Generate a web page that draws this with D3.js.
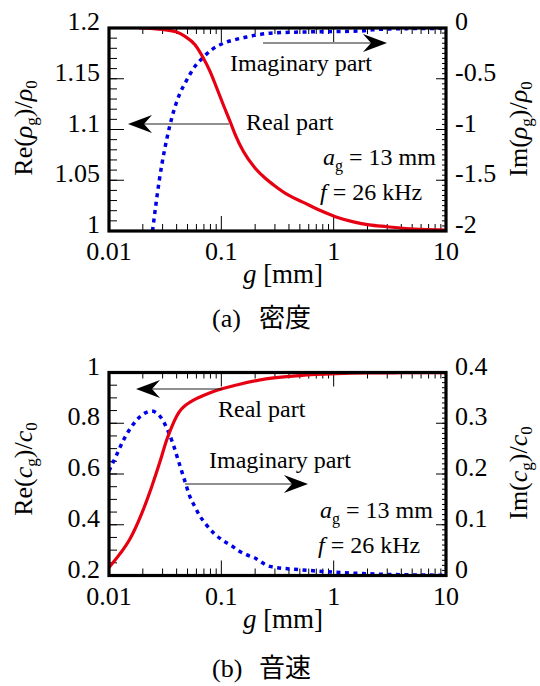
<!DOCTYPE html>
<html><head><meta charset="utf-8">
<script src="https://cdn.jsdelivr.net/npm/d3@7"></script>
<style>body{margin:0;background:#fff} svg{display:block}</style>
</head><body>
<script>
// ---------- data ----------
const gTicks = [0.01, 0.1, 1, 10];
const gTickLabels = ["0.01", "0.1", "1", "10"];

// (a) density
const densReG = [0.0185, 0.025, 0.03, 0.04, 0.0475, 0.0583, 0.0691, 0.0793, 0.091, 0.1041, 0.1195, 0.1323, 0.1569, 0.1994, 0.2448, 0.29, 0.4, 0.53, 0.75, 1.05, 1.5, 2.07, 3, 4.1, 6, 10];
const densReV = [1.2, 1.1994, 1.1985, 1.196, 1.1918, 1.1835, 1.1704, 1.1573, 1.1409, 1.1244, 1.1081, 1.0955, 1.0785, 1.0621, 1.0522, 1.0456, 1.035, 1.0285, 1.0205, 1.0138, 1.009, 1.006, 1.0042, 1.0027, 1.0017, 1.001];
const densImG = [0.0244, 0.028, 0.035, 0.0427, 0.0475, 0.0583, 0.0691, 0.082, 0.1006, 0.1323, 0.168, 0.213, 0.29, 0.5, 1, 1.7, 2.2, 3, 10];
const densImV = [-2, -1.505, -0.95, -0.647, -0.545, -0.377, -0.289, -0.214, -0.158, -0.115, -0.089, -0.066, -0.049, -0.04, -0.035, -0.03, -0.018, -0.01, -0.003];
const densLeftTicks = [1, 1.05, 1.1, 1.15, 1.2];
const densLeftLabels = ["1", "1.05", "1.1", "1.15", "1.2"];
const densRightTicks = [-2, -1.5, -1, -0.5, 0];
const densRightLabels = ["-2", "-1.5", "-1", "-0.5", "0"];

// (b) sound speed
const spdReG = [0.01, 0.0125, 0.0154, 0.0195, 0.024, 0.0285, 0.0325, 0.0365, 0.04, 0.044, 0.048, 0.0523, 0.06, 0.07, 0.09, 0.14, 0.25, 0.5, 1.05, 2, 4, 10];
const spdReV = [0.232, 0.285, 0.345, 0.443, 0.55, 0.65, 0.732, 0.79, 0.828, 0.855, 0.871, 0.882, 0.897, 0.91, 0.929, 0.952, 0.975, 0.988, 0.995, 0.998, 0.999, 0.9997];
const spdImG = [0.01, 0.0117, 0.0134, 0.0155, 0.0176, 0.0205, 0.0239, 0.027, 0.0303, 0.0335, 0.0372, 0.042, 0.0472, 0.0524, 0.058, 0.0641, 0.0736, 0.0871, 0.1035, 0.123, 0.142, 0.167, 0.197, 0.27, 0.53, 1.05, 2.07, 4, 10];
const spdImV = [0.206, 0.238, 0.266, 0.29, 0.306, 0.319, 0.324, 0.319, 0.305, 0.285, 0.259, 0.222, 0.187, 0.156, 0.136, 0.118, 0.0999, 0.082, 0.069, 0.059, 0.049, 0.041, 0.035, 0.018, 0.011, 0.0065, 0.0033, 0.0015, 0.0006];
const spdLeftTicks = [0.2, 0.4, 0.6, 0.8, 1];
const spdLeftLabels = ["0.2", "0.4", "0.6", "0.8", "1"];
const spdRightTicks = [0, 0.1, 0.2, 0.3, 0.4];
const spdRightLabels = ["0", "0.1", "0.2", "0.3", "0.4"];

// ---------- drawing ----------
const W = 540, H = 686;
const SERIF = "Liberation Serif, Times New Roman, serif";
const CJK = "Noto Sans CJK JP, Noto Sans CJK SC, sans-serif";
const RED = "#e60012", BLUE = "#0000e6";
const TICK_FS = 26, TITLE_FS = 26, NOTE_FS = 24;

const svg = d3.select("body").append("svg").attr("width", W).attr("height", H);

function txt(parent, size) {
  return parent.append("text").attr("font-family", SERIF).attr("font-size", size).attr("fill", "#000");
}

function richText(sel, parts, size, shift) {
  const sh = shift || size * 0.26;
  let shifted = false;
  parts.forEach(([t, st]) => {
    const ts = sel.append("tspan").text(t);
    if (st === "i") ts.attr("font-style", "italic");
    if (st === "s") {
      ts.attr("font-size", Math.round(size * 0.66));
      if (!shifted) { ts.attr("dy", sh); shifted = true; }
    } else if (shifted) {
      ts.attr("dy", -sh); shifted = false;
    }
  });
}

function arrow(g, x1, x2, y) {
  const dir = x2 > x1 ? 1 : -1;
  g.append("line").attr("x1", x1).attr("x2", x2 - dir * 12).attr("y1", y).attr("y2", y)
    .attr("stroke", "#222").attr("stroke-width", 1.2);
  const L = 24, Hh = 9, N = 16;
  g.append("path")
    .attr("d", `M${x2},${y} L${x2 - dir * L},${y - Hh} L${x2 - dir * N},${y} L${x2 - dir * L},${y + Hh} Z`)
    .attr("fill", "#000");
}

function panel(cfg) {
  const { top, bottom, left, right } = cfg;
  const x = d3.scaleLog().domain([0.01, 10]).range([left, right]);
  const yL = d3.scaleLinear().domain(cfg.leftDomain).range([bottom, top]);
  const yR = d3.scaleLinear().domain(cfg.rightDomain).range([bottom, top]);
  const g = svg.append("g");

  const clipId = "clip" + cfg.id;
  svg.append("clipPath").attr("id", clipId).append("rect")
    .attr("x", left).attr("y", top).attr("width", right - left).attr("height", bottom - top);

  const tk = g.append("g").attr("stroke", "#000").attr("stroke-width", 1);
  [0.01, 0.1, 1].forEach(d => {
    for (let k = 2; k <= 9; k++) {
      const xx = x(d * k);
      tk.append("line").attr("x1", xx).attr("x2", xx).attr("y1", bottom).attr("y2", bottom - 7);
      tk.append("line").attr("x1", xx).attr("x2", xx).attr("y1", top).attr("y2", top + 6);
    }
  });
  gTicks.forEach(v => {
    const xx = x(v);
    tk.append("line").attr("x1", xx).attr("x2", xx).attr("y1", bottom).attr("y2", bottom - 15);
    tk.append("line").attr("x1", xx).attr("x2", xx).attr("y1", top).attr("y2", top + 14);
  });
  d3.range(0, cfg.leftMinorN + 1).forEach(i => {
    const yy = yL(cfg.leftDomain[0] + i * cfg.leftMinor);
    tk.append("line").attr("x1", left).attr("x2", left + 8).attr("y1", yy).attr("y2", yy);
  });
  cfg.leftTicks.forEach(v => {
    const yy = yL(v);
    tk.append("line").attr("x1", left).attr("x2", left + 15).attr("y1", yy).attr("y2", yy);
  });
  d3.range(0, cfg.rightMinorN + 1).forEach(i => {
    const yy = yR(cfg.rightDomain[0] + i * cfg.rightMinor);
    tk.append("line").attr("x1", right).attr("x2", right - 4).attr("y1", yy).attr("y2", yy);
  });
  cfg.rightTicks.forEach(v => {
    const yy = yR(v);
    tk.append("line").attr("x1", right).attr("x2", right - 10).attr("y1", yy).attr("y2", yy);
  });

  const cg = g.append("g").attr("clip-path", `url(#${clipId})`);
  const lineRe = d3.line().x(d => x(d[0])).y(d => yL(d[1])).curve(d3.curveMonotoneX);
  const lineIm = d3.line().x(d => x(d[0])).y(d => yR(d[1])).curve(d3.curveMonotoneX);
  cg.append("path").datum(d3.zip(cfg.imG, cfg.imV)).attr("d", lineIm)
    .attr("fill", "none").attr("stroke", BLUE).attr("stroke-width", 3.5).attr("stroke-dasharray", "4,4.5");
  cg.append("path").datum(d3.zip(cfg.reG, cfg.reV)).attr("d", lineRe)
    .attr("fill", "none").attr("stroke", RED).attr("stroke-width", 3.2);

  cfg.arrows.forEach(a => arrow(g, a[0], a[1], a[2]));
  cfg.texts.forEach(t => {
    const te = txt(g, NOTE_FS).attr("x", t.x).attr("y", t.y);
    richText(te, t.parts, NOTE_FS);
  });

  g.append("rect").attr("x", left).attr("y", top).attr("width", right - left).attr("height", bottom - top)
    .attr("fill", "none").attr("stroke", "#000").attr("stroke-width", 3.2);

  gTicks.forEach((v, i) => {
    txt(g, TICK_FS).attr("x", x(v)).attr("y", bottom + 29).attr("text-anchor", "middle").text(gTickLabels[i]);
  });
  cfg.leftTicks.forEach((v, i) => {
    txt(g, TICK_FS).attr("x", left - 9).attr("y", yL(v) + 2).attr("text-anchor", "end").text(cfg.leftLabels[i]);
  });
  cfg.rightTicks.forEach((v, i) => {
    txt(g, TICK_FS).attr("x", right + 9).attr("y", yR(v) + 2).attr("text-anchor", "start").text(cfg.rightLabels[i]);
  });

  const xt = txt(g, 27).attr("x", 283).attr("y", bottom + 52).attr("text-anchor", "middle");
  richText(xt, [["g", "i"], [" [mm]", "n"]], 27);
  const lt = txt(g, TITLE_FS).attr("transform", `translate(32,${cfg.leftTitleY}) rotate(-90)`).attr("text-anchor", "middle");
  richText(lt, cfg.leftTitle, TITLE_FS, 5);
  const rt = txt(g, TITLE_FS).attr("transform", `translate(527,${cfg.rightTitleY}) rotate(-90)`).attr("text-anchor", "middle");
  richText(rt, cfg.rightTitle, TITLE_FS, 5);

  txt(g, 26).attr("x", 212).attr("y", cfg.capY).text(cfg.capLabel);
  g.append("text").attr("x", 259).attr("y", cfg.capY).attr("font-size", 26)
    .attr("font-family", CJK).text(cfg.capText);
}

panel({
  id: "a", top: 28, bottom: 231, left: 109, right: 446,
  leftDomain: [1, 1.2], rightDomain: [-2, 0],
  leftMinor: 0.01, leftMinorN: 20, rightMinor: 0.05, rightMinorN: 40,
  leftTicks: densLeftTicks, leftLabels: densLeftLabels,
  rightTicks: densRightTicks, rightLabels: densRightLabels,
  reG: densReG, reV: densReV, imG: densImG, imV: densImV,
  arrows: [[229, 128, 124], [263, 387, 43]],
  texts: [
    { x: 230, y: 71, parts: [["Imaginary part", "n"]] },
    { x: 246, y: 130, parts: [["Real part", "n"]] },
    { x: 323, y: 165, parts: [["a", "i"], ["g", "s"], [" = 13 mm", "n"]] },
    { x: 320, y: 200, parts: [["f", "i"], [" = 26 kHz", "n"]] }
  ],
  leftTitle: [["Re(", "n"], ["ρ", "i"], ["g", "s"], [")/", "n"], ["ρ", "i"], ["0", "s"]],
  rightTitle: [["Im(", "n"], ["ρ", "i"], ["g", "s"], [")/", "n"], ["ρ", "i"], ["0", "s"]],
  leftTitleY: 128, rightTitleY: 129,
  capY: 327, capLabel: "(a)", capText: "密度"
});

panel({
  id: "b", top: 372.5, bottom: 575.5, left: 109, right: 446,
  leftDomain: [0.2, 1], rightDomain: [0, 0.4],
  leftMinor: 0.05, leftMinorN: 16, rightMinor: 0.01, rightMinorN: 40,
  leftTicks: spdLeftTicks, leftLabels: spdLeftLabels,
  rightTicks: spdRightTicks, rightLabels: spdRightLabels,
  reG: spdReG, reV: spdReV, imG: spdImG, imV: spdImV,
  arrows: [[222, 136, 389], [185, 308, 484]],
  texts: [
    { x: 218, y: 417, parts: [["Real part", "n"]] },
    { x: 209, y: 468, parts: [["Imaginary part", "n"]] },
    { x: 320, y: 518, parts: [["a", "i"], ["g", "s"], [" = 13 mm", "n"]] },
    { x: 318, y: 553, parts: [["f", "i"], [" = 26 kHz", "n"]] }
  ],
  leftTitle: [["Re(", "n"], ["c", "i"], ["g", "s"], [")/", "n"], ["c", "i"], ["0", "s"]],
  rightTitle: [["Im(", "n"], ["c", "i"], ["g", "s"], [")/", "n"], ["c", "i"], ["0", "s"]],
  leftTitleY: 469, rightTitleY: 473,
  capY: 677, capLabel: "(b)", capText: "音速"
});
</script>
</body></html>
